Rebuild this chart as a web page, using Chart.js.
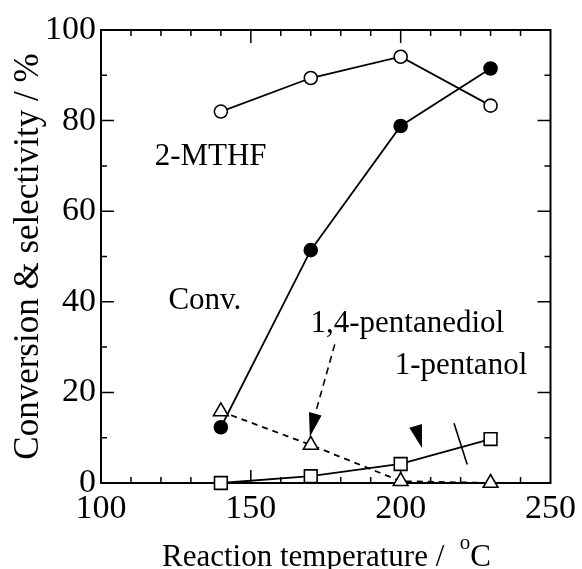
<!DOCTYPE html>
<html>
<head>
<meta charset="utf-8">
<script src="https://cdn.jsdelivr.net/npm/chart.js@4.4.1/dist/chart.umd.min.js"></script>
<style>
html,body{margin:0;padding:0;background:#fff;}
#wrap{width:582px;height:569px;}
</style>
</head>
<body>
<div id="wrap"><canvas id="c" width="582" height="569"></canvas></div>
<script>
// ---- data ----
const temps = [140, 170, 200, 230];
const mthf = [82.0, 89.4, 94.1, 83.3];
const conv = [12.3, 51.4, 78.8, 91.5];
const pentanediol = [15.8, 8.4, 0.4, 0.0];
const pentanol = [0.0, 1.5, 4.2, 9.7];
const xTicks = [100, 150, 200, 250];
const yTicks = [0, 20, 40, 60, 80, 100];
// annotation labels: [text, x, y]
const labels = [
  ['2-MTHF', 117.9, 72.0],
  ['Conv.', 122.5, 40.2],
  ['1,4-pentanediol', 169.9, 35.1],
  ['1-pentanol', 198.0, 25.8]
];
// dashed arrow: start, tip, base-left, base-right
const arrow1 = {start: [178.0, 30.6], tip: [169.7, 10.2], b1: [169.4, 15.7], b2: [173.6, 14.9]};
// arrowhead only
const arrow2 = {tip: [207.1, 7.7], b1: [202.9, 12.2], b2: [207.1, 13.0]};
// slash across 1-pentanol line
const slash = [[217.8, 13.2], [222.2, 4.1]];

const FONT = "'Liberation Serif', 'Times New Roman', serif";
const pts = arr => temps.map((t, i) => ({x: t, y: arr[i]}));

const deco = {
  id: 'deco',
  beforeDatasetsDraw(chart) {
    const ctx = chart.ctx, xs = chart.scales.x, ys = chart.scales.y;
    const a = chart.chartArea;
    ctx.save();
    ctx.strokeStyle = '#000';
    ctx.lineWidth = 1.5;
    ctx.beginPath();
    for (let v = 110; v < 250; v += 10) {
      const px = xs.getPixelForValue(v);
      const len = v % 50 === 0 ? 13 : 6;
      ctx.moveTo(px, a.bottom); ctx.lineTo(px, a.bottom - len);
      ctx.moveTo(px, a.top); ctx.lineTo(px, a.top + len);
    }
    for (let v = 10; v < 100; v += 10) {
      const py = ys.getPixelForValue(v);
      const len = v % 20 === 0 ? 13 : 6;
      ctx.moveTo(a.left, py); ctx.lineTo(a.left + len, py);
      ctx.moveTo(a.right, py); ctx.lineTo(a.right - len, py);
    }
    ctx.stroke();
    ctx.lineWidth = 2;
    ctx.strokeRect(a.left, a.top, a.right - a.left, a.bottom - a.top);
    ctx.restore();
  },
  afterDatasetsDraw(chart) {
    const ctx = chart.ctx, xs = chart.scales.x, ys = chart.scales.y;
    const a = chart.chartArea;
    const P = (v) => [xs.getPixelForValue(v[0]), ys.getPixelForValue(v[1])];
    ctx.save();
    ctx.strokeStyle = '#000';
    ctx.fillStyle = '#000';
    // labels
    ctx.font = '31px ' + FONT;
    ctx.textBaseline = 'middle';
    ctx.textAlign = 'left';
    labels.forEach(l => {
      const p = P([l[1], l[2]]);
      ctx.fillText(l[0], p[0], p[1]);
    });
    // dashed arrow
    const s = P(arrow1.start), t = P(arrow1.tip), b1 = P(arrow1.b1), b2 = P(arrow1.b2);
    ctx.lineWidth = 1.6;
    ctx.setLineDash([7, 5]);
    ctx.beginPath();
    ctx.moveTo(s[0], s[1]);
    ctx.lineTo((b1[0] + b2[0]) / 2, (b1[1] + b2[1]) / 2);
    ctx.stroke();
    ctx.setLineDash([]);
    ctx.beginPath();
    ctx.moveTo(t[0], t[1]); ctx.lineTo(b1[0], b1[1]); ctx.lineTo(b2[0], b2[1]); ctx.closePath();
    ctx.fill();
    // arrowhead 2
    const t2 = P(arrow2.tip), c1 = P(arrow2.b1), c2 = P(arrow2.b2);
    ctx.beginPath();
    ctx.moveTo(t2[0], t2[1]); ctx.lineTo(c1[0], c1[1]); ctx.lineTo(c2[0], c2[1]); ctx.closePath();
    ctx.fill();
    // slash
    const s1 = P(slash[0]), s2 = P(slash[1]);
    ctx.beginPath();
    ctx.moveTo(s1[0], s1[1]); ctx.lineTo(s2[0], s2[1]);
    ctx.stroke();
    // x title with superscript
    const main = 'Reaction temperature /  ', sup = 'o', tail = 'C';
    ctx.textBaseline = 'alphabetic';
    ctx.font = '31px ' + FONT;
    const w1 = ctx.measureText(main).width, w3 = ctx.measureText(tail).width;
    ctx.font = '21px ' + FONT;
    const w2 = ctx.measureText(sup).width;
    const total = w1 + w2 + w3;
    let x0 = 162;
    const base = 566;
    ctx.font = '31px ' + FONT;
    ctx.fillText(main, x0, base);
    ctx.font = '21px ' + FONT;
    ctx.fillText(sup, x0 + w1, base - 17);
    ctx.font = '31px ' + FONT;
    ctx.fillText(tail, x0 + w1 + w2, base);
    ctx.restore();
  }
};

const lineDs = (data, style, radius, fill, dash) => ({
  data: pts(data),
  showLine: true,
  clip: false,
  borderColor: '#000',
  borderWidth: 1.8,
  borderDash: dash || [],
  pointStyle: style,
  pointRadius: radius,
  pointBackgroundColor: fill,
  pointBorderColor: '#000',
  pointBorderWidth: 1.6,
  fill: false,
  tension: 0
});

new Chart(document.getElementById('c'), {
  type: 'scatter',
  data: {
    datasets: [
      lineDs(pentanediol, 'triangle', 8.5, '#fff', [6, 5]),
      lineDs(pentanol, 'rect', 9, '#fff'),
      lineDs(conv, 'circle', 6.5, '#000'),
      lineDs(mthf, 'circle', 6.5, '#fff')
    ]
  },
  options: {
    responsive: false,
    animation: false,
    events: [],
    layout: {padding: {top: 30, right: 28, left: 0, bottom: 0}},
    plugins: {legend: {display: false}, tooltip: {enabled: false}},
    scales: {
      x: {
        type: 'linear', min: 100, max: 250,
        afterFit(s) { s.height = 86; },
        afterBuildTicks(s) { s.ticks = xTicks.map(v => ({value: v})); },
        grid: {display: false, drawTicks: false},
        border: {display: false},
        ticks: {font: {family: FONT, size: 34}, color: '#000', padding: 6, maxRotation: 0, autoSkip: false}
      },
      y: {
        min: 0, max: 100,
        afterFit(s) { s.width = 101; },
        afterBuildTicks(s) { s.ticks = yTicks.map(v => ({value: v})); },
        grid: {display: false, drawTicks: false},
        border: {display: false},
        ticks: {font: {family: FONT, size: 34}, color: '#000', padding: 5, autoSkip: false},
        title: {display: true, text: 'Conversion & selectivity / %', color: '#000',
          font: {family: FONT, size: 35, lineHeight: 1}, padding: {top: 11, bottom: 0}}
      }
    }
  },
  plugins: [deco]
});
</script>
</body>
</html>
